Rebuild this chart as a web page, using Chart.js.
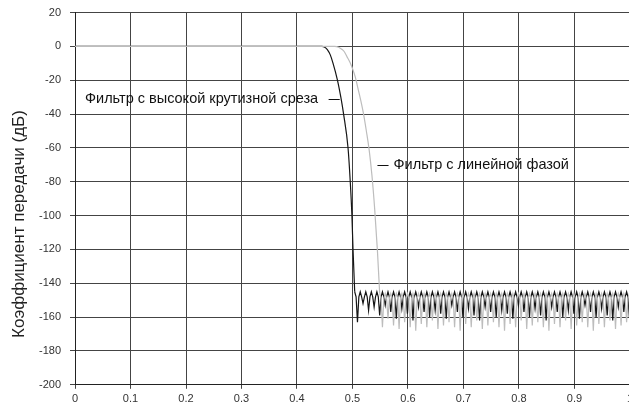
<!DOCTYPE html>
<html>
<head>
<meta charset="utf-8">
<script src="https://cdn.jsdelivr.net/npm/chart.js@4.4.0/dist/chart.umd.min.js"></script>
<style>
  html, body { margin: 0; padding: 0; background: #fff; overflow: hidden; }
  #wrap { width: 637px; height: 413px; margin-top: -3px; }
</style>
</head>
<body>
<div id="wrap"><canvas id="filterChart"></canvas></div>
<script>
// transition band
const steepFreq = [0, 0.445, 0.45, 0.455, 0.46, 0.465, 0.473, 0.479, 0.484, 0.492, 0.496, 0.499, 0.501, 0.504];
const steepGain = [0, 0, -0.5, -2, -5, -10, -20, -30, -40, -60, -80, -100, -120, -145];
const linearFreq = [0, 0.468, 0.475, 0.48, 0.485, 0.49, 0.495, 0.5, 0.505, 0.51, 0.515, 0.52, 0.525, 0.53, 0.535, 0.54, 0.545, 0.549];
const linearGain = [0, 0, -0.5, -1.5, -3, -6, -9, -13, -18, -25, -32, -40, -50, -61, -76, -96, -121, -146];

// stopband ripple (lobe top, shoulder, notch, shoulder), sampled every 0.0025
const steepStopStart = 0.504;
const steepStop = [
  -145,-148,-163,-148, -145,-148,-152,-148, -145,-148,-156,-148, -145,-148,-154,-148, -145,-148,-159,-148,
  -145,-148,-153,-148, -145,-148,-157,-148, -145,-148,-161,-148, -145,-148,-155,-148, -145,-148,-158,-148,
  -145,-148,-162,-148, -145,-148,-154,-148, -145,-148,-157,-148, -145,-148,-160,-148, -145,-148,-156,-148,
  -145,-148,-158,-148, -145,-148,-161,-148, -145,-148,-153,-148, -145,-148,-157,-148, -145,-148,-160,-148,
  -145,-148,-155,-148, -145,-148,-159,-148, -145,-148,-162,-148, -145,-148,-154,-148, -145,-148,-157,-148,
  -145,-148,-160,-148, -145,-148,-156,-148, -145,-148,-158,-148, -145,-148,-161,-148, -145,-148,-153,-148,
  -145,-148,-157,-148, -145,-148,-160,-148, -145,-148,-155,-148, -145,-148,-159,-148, -145,-148,-162,-148,
  -145,-148,-154,-148, -145,-148,-157,-148, -145,-148,-160,-148, -145,-148,-156,-148, -145,-148,-158,-148,
  -145,-148,-161,-148, -145,-148,-153,-148, -145,-148,-157,-148, -145,-148,-160,-148, -145,-148,-155,-148,
  -145,-148,-159,-148, -145,-148,-162,-148, -145,-148,-154,-148, -145,-148,-157,-148, -145,-148,-160,-148
];
const linearStopStart = 0.549;
const linearStop = [
  -146,-149,-166,-149, -146,-149,-161,-149, -146,-149,-165,-149, -146,-149,-167,-149, -146,-149,-163,-149,
  -146,-149,-166,-149, -146,-149,-168,-149, -146,-149,-164,-149, -146,-149,-166,-149, -146,-149,-162,-149,
  -146,-149,-167,-149, -146,-149,-165,-149, -146,-149,-163,-149, -146,-149,-166,-149, -146,-149,-168,-149,
  -146,-149,-164,-149, -146,-149,-166,-149, -146,-149,-162,-149, -146,-149,-167,-149, -146,-149,-165,-149,
  -146,-149,-163,-149, -146,-149,-166,-149, -146,-149,-168,-149, -146,-149,-164,-149, -146,-149,-166,-149,
  -146,-149,-162,-149, -146,-149,-167,-149, -146,-149,-165,-149, -146,-149,-163,-149, -146,-149,-166,-149,
  -146,-149,-168,-149, -146,-149,-164,-149, -146,-149,-166,-149, -146,-149,-162,-149, -146,-149,-167,-149,
  -146,-149,-165,-149, -146,-149,-163,-149, -146,-149,-166,-149, -146,-149,-168,-149, -146,-149,-164,-149,
  -146,-149,-166,-149, -146,-149,-162,-149, -146,-149,-167,-149, -146,-149,-165,-149, -146,-149,-163,-149,
  -146,-149,-166,-149
];

const steepLabel = "Фильтр с высокой крутизной среза";
const linearLabel = "Фильтр с линейной фазой";
const yTitle = "Коэффициент передачи (дБ)";
const FONT = "'Liberation Sans', Arial, sans-serif";

function bandPoints(freq, gain) {
  return freq.map((f, i) => ({ x: f, y: gain[i] }));
}
function stopPoints(start, stop) {
  return stop.map((g, i) => ({ x: +(start + i * 0.0025).toFixed(4), y: g }));
}

// text labels with short leader dashes, plus the rotated axis title
const notes = {
  id: "notes",
  afterDraw(chart) {
    const { ctx, scales } = chart;
    const xs = scales.x, ys = scales.y;
    ctx.save();
    ctx.font = "14.5px " + FONT;
    ctx.fillStyle = "#111";
    ctx.strokeStyle = "#111";
    ctx.lineWidth = 1;
    ctx.textBaseline = "middle";

    let y = ys.getPixelForValue(-31);
    ctx.fillText(steepLabel, xs.getPixelForValue(0.018), y);
    ctx.beginPath();
    ctx.moveTo(xs.getPixelForValue(0.457), Math.round(y) + 0.5);
    ctx.lineTo(xs.getPixelForValue(0.477), Math.round(y) + 0.5);
    ctx.stroke();

    y = ys.getPixelForValue(-70);
    ctx.beginPath();
    ctx.moveTo(xs.getPixelForValue(0.545), Math.round(y) + 0.5);
    ctx.lineTo(xs.getPixelForValue(0.565), Math.round(y) + 0.5);
    ctx.stroke();
    ctx.fillText(linearLabel, xs.getPixelForValue(0.574), y);

    ctx.translate(19, 227);
    ctx.rotate(-Math.PI / 2);
    ctx.textAlign = "center";
    ctx.font = "17px " + FONT;
    ctx.fillStyle = "#222";
    ctx.fillText(yTitle, 0, 0);
    ctx.restore();
  }
};

const tickFont = { family: FONT, size: 11 };

new Chart(document.getElementById("filterChart"), {
  type: "line",
  data: {
    datasets: [
      { data: bandPoints(linearFreq, linearGain), borderColor: "#bdbdbd", cubicInterpolationMode: "monotone" },
      { data: stopPoints(linearStopStart, linearStop), borderColor: "#bdbdbd" },
      { data: bandPoints(steepFreq, steepGain), borderColor: "#151515", cubicInterpolationMode: "monotone" },
      { data: stopPoints(steepStopStart, steepStop), borderColor: "#151515" }
    ]
  },
  options: {
    responsive: true,
    maintainAspectRatio: false,
    animation: false,
    datasets: { line: { borderWidth: 1.2, pointRadius: 0, tension: 0 } },
    layout: { padding: { top: 3, right: 0, bottom: 0, left: 30 } },
    plugins: { legend: { display: false }, tooltip: { enabled: false } },
    scales: {
      x: {
        type: "linear",
        min: 0,
        max: 1,
        ticks: {
          stepSize: 0.1,
          color: "#333",
          font: tickFont,
          padding: 4,
          callback: (v) => String(+v.toFixed(1))
        },
        grid: { color: "#444", lineWidth: 1, tickLength: 4 },
        border: { color: "#222" }
      },
      y: {
        min: -200,
        max: 20,
        ticks: { stepSize: 20, color: "#333", font: tickFont, padding: 9 },
        grid: { color: "#444", lineWidth: 1, tickLength: 5 },
        border: { color: "#222" }
      }
    }
  },
  plugins: [notes]
});
</script>
</body>
</html>
